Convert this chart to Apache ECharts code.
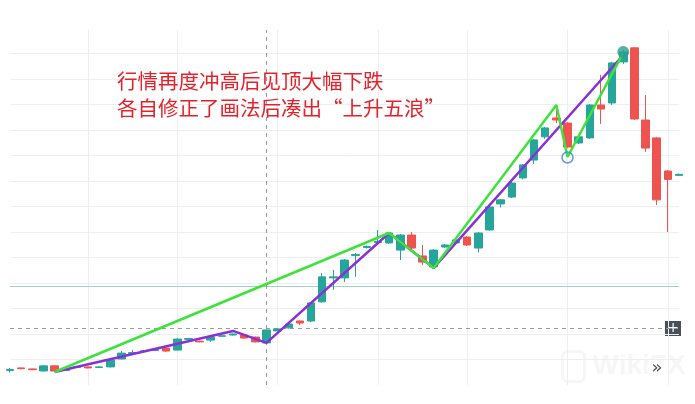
<!DOCTYPE html>
<html>
<head>
<meta charset="utf-8">
<script src="https://cdn.jsdelivr.net/npm/echarts@6/dist/echarts.min.js"></script>
<style>
  html, body { margin: 0; padding: 0; background: #fff; }
  #chart { width: 695px; height: 404px; }
</style>
</head>
<body>
<div id="chart"></div>
<script>
// candles: [open, close, low, high]
const ohlc = [
    [10.6, 11.0, 9.8, 11.6], [11.6, 11.3, 11.1, 11.8], [11.2, 10.9, 10.7, 11.4], [10.4, 12.4, 10.2, 12.6],
    [12.4, 10.4, 10.0, 12.6], [10.6, 11.1, 10.4, 11.4], [11.8, 12.1, 11.6, 12.3], [12.0, 11.6, 11.4, 12.2],
    [11.8, 12.0, 11.7, 12.3], [12.0, 14.7, 11.8, 15.0], [15.1, 17.4, 14.9, 18.2], [17.2, 17.6, 16.8, 18.6],
    [18.0, 18.3, 17.8, 18.6], [18.4, 18.8, 18.2, 19.2], [19.4, 18.2, 17.8, 19.6], [18.6, 22.9, 18.4, 23.2],
    [22.8, 23.1, 22.6, 23.4], [22.1, 21.8, 21.6, 22.3], [22.5, 23.7, 21.8, 23.9], [24.0, 24.2, 23.9, 24.4],
    [24.5, 24.9, 24.3, 25.1], [24.5, 23.3, 23.1, 24.7], [23.7, 21.8, 21.6, 23.9], [21.4, 26.5, 21.0, 26.7],
    [26.1, 26.9, 25.9, 27.1], [27.3, 28.8, 27.0, 29.0], [30.0, 29.2, 28.4, 30.2], [30.0, 37.1, 29.6, 37.3],
    [37.5, 47.3, 37.1, 48.8], [46.9, 47.3, 42.2, 50.0], [46.9, 53.9, 45.3, 54.3], [55.7, 56.1, 47.3, 56.7],
    [58.8, 59.2, 58.4, 59.6], [60.8, 61.2, 60.4, 65.7], [60.6, 64.5, 60.2, 64.9], [57.8, 63.7, 53.9, 64.1],
    [63.7, 58.6, 57.1, 64.9], [55.5, 53.1, 52.0, 59.8], [51.2, 57.8, 50.8, 58.2], [59.0, 59.8, 58.6, 60.2],
    [60.6, 61.8, 60.2, 62.2], [62.9, 59.8, 59.4, 63.3], [58.6, 64.5, 56.9, 64.9], [65.7, 74.7, 65.3, 75.1],
    [75.9, 77.5, 74.5, 77.8], [78.6, 84.1, 78.2, 84.5], [86.1, 91.2, 85.5, 91.6], [93.1, 101.0, 91.6, 101.4],
    [102.2, 105.7, 101.4, 106.1], [109.6, 108.8, 107.6, 112.7], [107.6, 98.2, 97.8, 108.0], [99.8, 102.2, 99.4, 102.5],
    [101.8, 114.7, 101.4, 115.1], [114.7, 113.1, 107.3, 126.5], [115.5, 131.2, 114.7, 131.6], [131.6, 135.5, 130.8, 136.3],
    [137.1, 109.2, 108.8, 137.3], [108.8, 97.8, 96.3, 118.6], [101.8, 77.5, 75.5, 102.2], [88.8, 85.5, 64.9, 89.2],
    [87.1, 87.5, 86.9, 87.8]
];
const days = ohlc.map((_, i) => String(i));

// hand drawn wave lines: [candle index, price]
const greenWave = [[4, 10.0], [34, 64.5], [38, 50.8], [49, 114.7], [50, 94.3], [55, 135.1]];
const purpleWave = [[4, 10.0], [20, 26.1], [23, 21.4], [34, 64.5], [38, 50.8], [55, 134.3]];
const topMark = [[55, 135.5]];
const lowMark = [[50, 94.1]];

const gridDays = [7, 15, 24, 33, 41, 50, 59];
const crossDay = '23';
const crossPrice = 27.25;
const tealLevel = 43.7;

const notes = ['行情再度冲高后见顶大幅下跌', '各自修正了画法后凑出“上升五浪”'];

const up = '#26a69a';
const down = '#ef5350';

const app = echarts.init(document.getElementById('chart'));

app.setOption({
    animation: false,
    grid: {left: 10, right: 16, top: 30, bottom: 19},
    xAxis: {
        type: 'category',
        data: days,
        boundaryGap: false,
        axisLine: {show: false},
        axisTick: {show: false},
        axisLabel: {show: false},
        splitLine: {
            show: true,
            interval: (index) => gridDays.indexOf(index) >= 0,
            lineStyle: {color: '#eceef3', width: 1}
        }
    },
    yAxis: {
        type: 'value',
        min: 4.9,
        max: 144.1,
        interval: 10,
        axisLine: {show: false},
        axisTick: {show: false},
        axisLabel: {show: false},
        splitLine: {
            show: true,
            showMinLine: false,
            showMaxLine: false,
            lineStyle: {color: '#eceef3', width: 1}
        }
    },
    series: [
        {
            type: 'candlestick',
            data: ohlc,
            barWidth: 8,
            clip: false,
            itemStyle: {
                color: up,
                color0: down,
                borderColor: up,
                borderColor0: down,
                borderWidth: 1
            },
            markLine: {
                silent: true,
                symbol: 'none',
                label: {show: false},
                z: 1,
                data: [
                    {yAxis: tealLevel, lineStyle: {color: '#9fd4cd', type: 'solid', width: 1}},
                    {yAxis: crossPrice, lineStyle: {color: '#9a9a9a', type: [4, 4], width: 1}},
                    {xAxis: crossDay, lineStyle: {color: '#9a9a9a', type: [4, 4], width: 1}}
                ]
            }
        },
        {
            type: 'line',
            data: purpleWave,
            symbol: 'none',
            z: 4,
            lineStyle: {color: '#8b2fd9', width: 2.5}
        },
        {
            type: 'line',
            data: greenWave,
            symbol: 'none',
            z: 5,
            lineStyle: {color: '#3de33a', width: 2.5}
        },
        {
            type: 'scatter',
            data: topMark,
            symbolSize: 12,
            z: 6,
            itemStyle: {color: '#2a9d8f'}
        },
        {
            type: 'scatter',
            data: lowMark,
            symbolSize: 11,
            z: 6,
            itemStyle: {color: 'rgba(255,255,255,0)', borderColor: '#3f7fd6', borderWidth: 1.5}
        }
    ],
    graphic: [
        {
            type: 'text', left: 117, top: 71, z: 10,
            style: {text: notes[0], fill: '#e3232b', font: '20.5px "Noto Sans CJK SC"'}
        },
        {
            type: 'text', left: 117, top: 98, z: 10,
            style: {text: notes[1], fill: '#e3232b', font: '20.5px "Noto Sans CJK SC"'}
        },
        {
            type: 'group', left: 665, top: 321, z: 10,
            children: [
                {type: 'rect', shape: {x: 0, y: 0, width: 16, height: 15}, style: {fill: '#4a4f5c'}},
                {type: 'text', x: 8, y: 7.5, style: {text: '+', fill: '#fff', font: '14px "DejaVu Sans"', align: 'center', verticalAlign: 'middle'}}
            ]
        },
        {
            type: 'group', left: 560, top: 349, z: 0,
            children: [
                {type: 'rect', shape: {x: 0, y: 2, width: 22, height: 30, r: 5}, style: {fill: 'none', stroke: '#f6f6f6', lineWidth: 3}},
                {type: 'text', x: 30, y: 17, style: {text: 'WikiFX', fill: '#f6f6f6', font: 'bold 28px "Liberation Sans"', verticalAlign: 'middle'}}
            ]
        },
        {
            type: 'group', left: 647, top: 358, z: 10,
            children: [
                {type: 'circle', shape: {cx: 10, cy: 10, r: 10}, style: {fill: '#fff'}},
                {type: 'text', x: 10, y: 10, style: {text: '»', fill: '#555', font: '18px "DejaVu Sans"', align: 'center', verticalAlign: 'middle'}}
            ]
        }
    ]
});
</script>
</body>
</html>
